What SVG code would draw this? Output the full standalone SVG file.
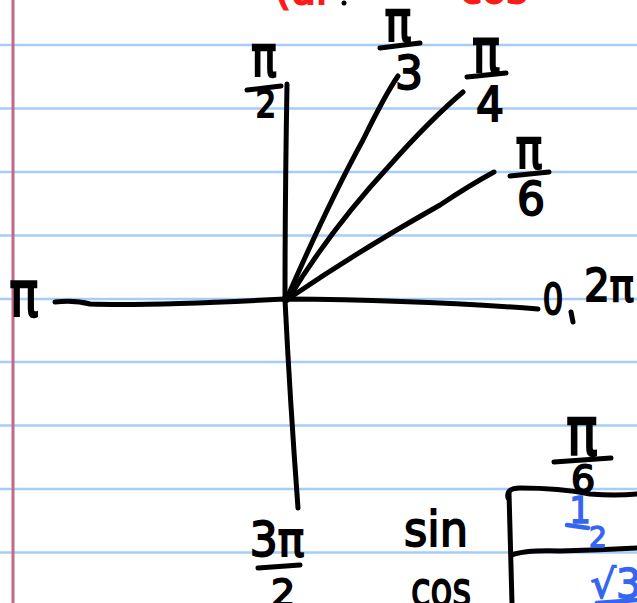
<svg xmlns="http://www.w3.org/2000/svg" width="637" height="603" viewBox="0 0 637 603">
<style>
.rule{stroke:#a6cdf8;stroke-width:2.5;fill:none}
.ink{stroke:#000;stroke-width:5;fill:none;stroke-linecap:round;stroke-linejoin:round}
.blueink{stroke:#3566f0;stroke-width:4.5;fill:none;stroke-linecap:round}
.t{font-family:"DejaVu Sans","Liberation Sans",sans-serif;fill:#000;stroke:#000;stroke-width:1.8;text-anchor:middle}
.b{font-family:"DejaVu Sans","Liberation Sans",sans-serif;fill:#3566f0;stroke:#3566f0;stroke-width:1.4;text-anchor:middle}
.r{font-family:"DejaVu Sans","Liberation Sans",sans-serif;fill:#ff1a1a;stroke:#ff1a1a;stroke-width:2}
</style>
<rect width="637" height="603" fill="#fff"/>
<g id="paper">
<line class="rule" x1="0" y1="45" x2="637" y2="45"/>
<line class="rule" x1="0" y1="108.5" x2="637" y2="108.5"/>
<line class="rule" x1="0" y1="172" x2="637" y2="172"/>
<line class="rule" x1="0" y1="235.5" x2="637" y2="235.5"/>
<line class="rule" x1="0" y1="299" x2="637" y2="299"/>
<line class="rule" x1="0" y1="362" x2="637" y2="362"/>
<line class="rule" x1="0" y1="425.5" x2="637" y2="425.5"/>
<line class="rule" x1="0" y1="489" x2="637" y2="489"/>
<line class="rule" x1="0" y1="552.5" x2="637" y2="552.5"/>
<line x1="13" y1="0" x2="13" y2="603" stroke="#c46886" stroke-width="3"/>
</g>
<g id="title">
<text class="r" x="275" y="4" font-size="40">(ui</text>
<circle cx="344" cy="3" r="2.5" fill="#000"/>
<text class="r" x="460" y="3" font-size="40">cos</text>
</g>
<g id="connectors">
<path class="ink" d="M287,84 Q285,200 285,300 Q290,400 298,508"/>
<path class="ink" d="M55,302 Q75,300 90,304 Q150,306 285,299 Q420,300 538,309"/>
<path class="ink" d="M287,298 Q330,200 363,140 Q385,95 398,76"/>
<path class="ink" d="M289,298 Q330,230 390,165 Q430,120 463,92"/>
<path class="ink" d="M291,297 Q360,250 440,205 Q470,185 494,172"/>
<circle cx="286" cy="299" r="4" fill="#000"/>
</g>
<g id="label-pi-2">
<text class="t" transform="translate(264,76) scale(1,1.35)" font-size="42">π</text>
<line class="ink" x1="247" y1="90" x2="281" y2="86"/>
<text class="t" transform="translate(266,117) scale(1,1.15)" font-size="32">2</text>
</g>
<g id="label-pi-3">
<text class="t" transform="translate(398,41) scale(1,1.3)" font-size="44">π</text>
<line class="ink" x1="380" y1="48" x2="420" y2="43"/>
<text class="t" transform="translate(409,89) scale(1,1.05)" font-size="44">3</text>
</g>
<g id="label-pi-4">
<text class="t" transform="translate(486,72) scale(1,1.3)" font-size="46">π</text>
<line class="ink" x1="467" y1="77" x2="506" y2="73"/>
<text class="t" transform="translate(490,121) scale(1,1.1)" font-size="44">4</text>
</g>
<g id="label-pi-6">
<text class="t" transform="translate(529,168) scale(1,1.25)" font-size="44">π</text>
<line class="ink" x1="510" y1="176" x2="549" y2="172"/>
<text class="t" transform="translate(531,215) scale(1,1.05)" font-size="44">6</text>
</g>
<g id="label-pi">
<text class="t" transform="translate(24,316) scale(1,1.3)" font-size="48">π</text>
</g>
<g id="label-0-2pi">
<text class="t" transform="translate(553,314) scale(0.85,1.1)" font-size="38">0</text>
<line class="ink" x1="571" y1="312" x2="573" y2="322"/>
<text class="t" transform="translate(609,301) scale(1,1.1)" font-size="40">2π</text>
</g>
<g id="label-3pi-2">
<text class="t" transform="translate(277,556) scale(1,1.1)" font-size="44">3π</text>
<line class="ink" x1="258" y1="568" x2="300" y2="565"/>
<text class="t" x="283" y="606" font-size="38">2</text>
</g>
<g id="table">
<text class="t" transform="translate(582,455) scale(1,1.3)" font-size="52">π</text>
<line class="ink" x1="554" y1="462" x2="611" y2="458"/>
<text class="t" x="583" y="492" font-size="38">6</text>
<path class="ink" d="M508,498 Q506,488 520,488 Q560,488 590,494 Q615,496 637,494"/>
<path class="ink" d="M509,493 L512,603"/>
<path class="ink" d="M512,555 Q525,550 560,551 Q600,550 637,548"/>
<text class="t" x="436" y="546" font-size="48" textLength="64" lengthAdjust="spacingAndGlyphs">sin</text>
<text class="t" x="441" y="606" font-size="48" textLength="60" lengthAdjust="spacingAndGlyphs">cos</text>
<text class="b" transform="translate(580,523) scale(1,1.1)" font-size="34">1</text>
<line class="blueink" x1="567" y1="525" x2="588" y2="528"/>
<text class="b" x="598" y="547" font-size="28">2</text>
<text class="b" x="616" y="598" font-size="40">√3</text>
<line class="blueink" x1="597" y1="603" x2="637" y2="600"/>
</g>
</svg>
